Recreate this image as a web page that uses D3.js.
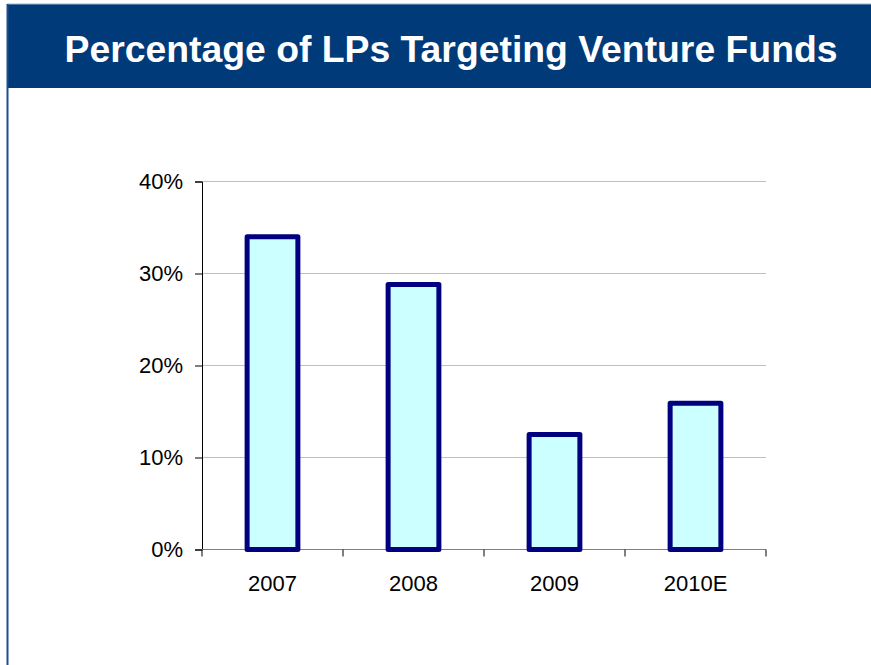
<!DOCTYPE html>
<html>
<head>
<meta charset="utf-8">
<script src="https://cdn.jsdelivr.net/npm/d3@7"></script>
<style>
  body { margin: 0; background: #fff; }
  svg { display: block; font-family: Arial, "Liberation Sans", sans-serif; }
</style>
</head>
<body>
<svg id="chart" width="871" height="665"></svg>
<script>
// --- data ---
var years = ["2007", "2008", "2009", "2010E"];
var shares = [0.34, 0.288, 0.125, 0.159];
var yTicks = [0, 0.1, 0.2, 0.3, 0.4];
var title = "Percentage of LPs Targeting Venture Funds";

var svg = d3.select("#chart");

// slide frame: header band + left border
svg.append("rect").attr("x", 7).attr("y", 4).attr("width", 864).attr("height", 84).attr("fill", "#003A78");
svg.append("line").attr("x1", 7).attr("x2", 871).attr("y1", 4).attr("y2", 4).attr("stroke", "#9fb3cc").attr("stroke-width", 1);
svg.append("line").attr("x1", 7.5).attr("x2", 7.5).attr("y1", 4).attr("y2", 665).attr("stroke", "#1f4e8c").attr("stroke-width", 2);

svg.append("text")
    .attr("x", 451).attr("y", 62)
    .attr("text-anchor", "middle")
    .attr("fill", "#fff")
    .attr("font-weight", "bold")
    .attr("font-size", 37)
    .attr("textLength", 773)
    .attr("lengthAdjust", "spacingAndGlyphs")
    .text(title);

// --- chart ---
var plotLeft = 202, plotRight = 766, plotTop = 181.5, plotBottom = 549.5;

var x = d3.scaleBand().domain(years).range([plotLeft, plotRight]).paddingInner(0.64).paddingOuter(0.32);
var y = d3.scaleLinear().domain([0, 0.4]).range([plotBottom, plotTop]);

// gridlines
svg.append("g").selectAll("line").data(yTicks.filter(d => d > 0)).enter().append("line")
    .attr("x1", plotLeft).attr("x2", plotRight)
    .attr("y1", d => y(d)).attr("y2", d => y(d))
    .attr("stroke", "#c0c0c0").attr("stroke-width", 1);

// y axis
var yAxis = svg.append("g").attr("transform", "translate(" + plotLeft + ",0)")
    .call(d3.axisLeft(y).tickValues(yTicks).tickFormat(d3.format(".0%")).tickSize(7).tickPadding(12));
yAxis.select(".domain").attr("stroke", "#000");
yAxis.selectAll(".tick line").attr("stroke", "#000");
yAxis.selectAll("text").attr("font-size", 22).attr("fill", "#000").attr("font-family", "Arial, 'Liberation Sans', sans-serif");

// x axis (ticks between categories)
var xb = d3.scaleLinear().domain([0, years.length]).range([plotLeft, plotRight]);
var xAxis = svg.append("g").attr("transform", "translate(0," + plotBottom + ")");
xAxis.append("line").attr("x1", plotLeft).attr("x2", plotRight).attr("y1", 0).attr("y2", 0).attr("stroke", "#808080");
xAxis.selectAll("line.tk").data(d3.range(years.length + 1)).enter().append("line")
    .attr("class", "tk")
    .attr("x1", d => xb(d)).attr("x2", d => xb(d))
    .attr("y1", 0).attr("y2", 7)
    .attr("stroke", "#000");
xAxis.selectAll("text").data(years).enter().append("text")
    .attr("x", d => x(d) + x.bandwidth() / 2)
    .attr("y", 41.5)
    .attr("text-anchor", "middle")
    .attr("font-size", 22)
    .attr("fill", "#000")
    .text(d => d);

// bars
svg.append("g").selectAll("rect").data(years).enter().append("rect")
    .attr("x", d => x(d))
    .attr("y", (d, i) => y(shares[i]))
    .attr("width", x.bandwidth())
    .attr("height", (d, i) => plotBottom - y(shares[i]))
    .attr("fill", "#CCFFFF")
    .attr("stroke", "#000080")
    .attr("stroke-width", 5)
    .attr("stroke-linejoin", "round");
</script>
</body>
</html>
